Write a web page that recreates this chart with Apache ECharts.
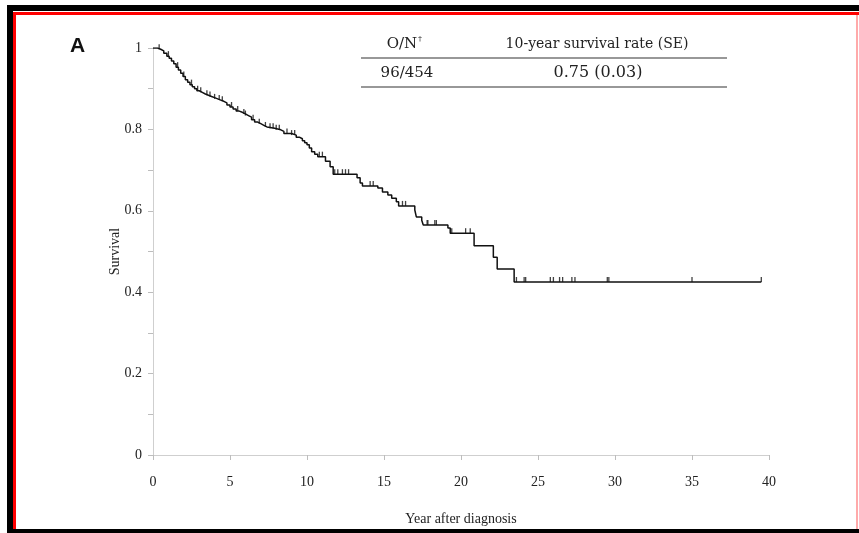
<!DOCTYPE html>
<html>
<head>
<meta charset="utf-8">
<script src="https://cdn.jsdelivr.net/npm/echarts@6/dist/echarts.min.js"></script>
<style>
html,body{margin:0;padding:0;background:#fff;}
#chart{width:859px;height:533px;}
</style>
</head>
<body>
<div id="chart"></div>
<script>
// Kaplan-Meier step points (time in years, survival)
var eventTimes = [0, 0.3, 0.5, 0.7, 0.9, 1.05, 1.2, 1.35, 1.5, 1.65, 1.8, 1.95, 2.1, 2.25, 2.4, 2.55, 2.7, 2.85, 3.0, 3.2, 3.4, 3.6, 3.8, 4.0, 4.2, 4.4, 4.6, 4.8, 5.0, 5.2, 5.4, 5.6, 5.8, 6.0, 6.2, 6.4, 6.6, 6.8, 7.0, 7.2, 7.4, 7.9, 8.3, 8.5, 9.0, 9.3, 9.5, 9.7, 9.85, 10.0, 10.15, 10.3, 10.5, 10.7, 11.2, 11.5, 11.7, 13.25, 13.45, 13.6, 14.6, 14.9, 15.25, 15.5, 15.8, 15.95, 17.0, 17.1, 17.45, 17.55, 19.15, 19.3, 20.85, 22.1, 22.35, 23.45, 39.5];
var survival = [1, 0.997, 0.993, 0.987, 0.98, 0.975, 0.968, 0.961, 0.953, 0.946, 0.938, 0.93, 0.922, 0.916, 0.91, 0.905, 0.9, 0.895, 0.891, 0.887, 0.884, 0.881, 0.878, 0.875, 0.872, 0.869, 0.865, 0.86, 0.855, 0.85, 0.845, 0.842, 0.838, 0.834, 0.83, 0.824, 0.818, 0.814, 0.81, 0.806, 0.803, 0.799, 0.795, 0.79, 0.786, 0.781, 0.777, 0.772, 0.767, 0.762, 0.754, 0.745, 0.739, 0.733, 0.722, 0.708, 0.69, 0.681, 0.668, 0.661, 0.656, 0.646, 0.639, 0.631, 0.622, 0.612, 0.602, 0.585, 0.577, 0.565, 0.558, 0.545, 0.514, 0.486, 0.457, 0.425, 0.425];
// censored observations (time in years)
var censorTimes = [0.4, 1.0, 1.6, 2.0, 2.5, 2.9, 3.1, 3.5, 3.7, 4.0, 4.3, 4.5, 5.1, 5.5, 5.9, 6.0, 6.5, 6.9, 7.3, 7.6, 7.8, 8.0, 8.2, 8.7, 9.0, 9.2, 10.8, 11.0, 11.8, 12.0, 12.3, 12.5, 12.7, 14.1, 14.3, 16.2, 16.4, 17.8, 17.85, 18.3, 18.4, 19.4, 20.3, 20.6, 23.6, 24.1, 24.2, 25.8, 26.0, 26.4, 26.6, 27.2, 27.4, 29.5, 29.6, 35.0, 39.5];
var xTicks = [0, 5, 10, 15, 20, 25, 30, 35, 40];
var yLabels = ['0', '0.2', '0.4', '0.6', '0.8', '1'];
var tableHeader = ['O/N', '10-year survival rate (SE)'];
var tableRow = ['96/454', '0.75 (0.03)'];

function survAt(t) {
  var s = survival[0];
  for (var i = 0; i < eventTimes.length; i++) {
    if (eventTimes[i] <= t) s = survival[i]; else break;
  }
  return s;
}
var lineData = eventTimes.map(function (t, i) { return [t, survival[i]]; });
var censorData = censorTimes.map(function (t) { return [t, survAt(t)]; });

var chart = echarts.init(document.getElementById('chart'), null, {renderer: 'canvas'});
var serif = 'Liberation Serif';
var tfont = 'DejaVu Serif';
var option = {
  animation: false,
  backgroundColor: '#fff',
  grid: {left: 153, right: 90, top: 48, bottom: 78},
  xAxis: {
    type: 'value', min: 0, max: 40, interval: 5,
    name: 'Year after diagnosis', nameLocation: 'middle', nameGap: 57,
    nameTextStyle: {fontFamily: serif, fontSize: 14, color: '#222'},
    axisLine: {lineStyle: {color: '#cfcfcf', width: 1}},
    axisTick: {show: true, length: 5, lineStyle: {color: '#bdbdbd'}},
    axisLabel: {fontFamily: serif, fontSize: 14, color: '#222', margin: 20,
      formatter: function (v) { return xTicks.indexOf(v) >= 0 ? String(v) : ''; }},
    splitLine: {show: false}
  },
  yAxis: {
    type: 'value', min: 0, max: 1, interval: 0.1,
    name: 'Survival', nameLocation: 'middle', nameGap: 31, nameRotate: 90,
    nameMoveOverlap: false,
    nameTextStyle: {fontFamily: serif, fontSize: 14, color: '#222'},
    axisLine: {show: true, lineStyle: {color: '#cfcfcf', width: 1}},
    axisTick: {show: true, length: 5, lineStyle: {color: '#bdbdbd'}},
    axisLabel: {fontFamily: serif, fontSize: 14, color: '#222', margin: 11,
      formatter: function (v) {
        var k = Math.round(v * 10);
        if (k % 2 !== 0) return '';
        return yLabels[k / 2];
      }},
    splitLine: {show: false}
  },
  series: [
    {
      type: 'line', step: 'end', data: lineData, showSymbol: false,
      lineStyle: {color: '#111', width: 1.5}, z: 3
    },
    {
      type: 'scatter', data: censorData, symbol: 'rect', symbolSize: [1.3, 5],
      symbolOffset: [0, -2.5], itemStyle: {color: '#111'}, z: 4
    }
  ],
  graphic: [
    {type: 'rect', shape: {x: 7, y: 5, width: 852, height: 6}, style: {fill: '#000'}},
    {type: 'rect', shape: {x: 7, y: 5, width: 6, height: 528}, style: {fill: '#000'}},
    {type: 'rect', shape: {x: 7, y: 529, width: 852, height: 4}, style: {fill: '#000'}},
    {type: 'rect', shape: {x: 13, y: 12, width: 846, height: 3}, style: {fill: '#ff0000'}},
    {type: 'rect', shape: {x: 13, y: 12, width: 3, height: 517}, style: {fill: '#ff0000'}},
    {type: 'rect', shape: {x: 856, y: 15, width: 2, height: 514}, style: {fill: '#ffaaaa'}},
    {type: 'text', left: 70, top: 36, style: {text: 'A', font: 'bold 21px Liberation Sans', fill: '#111'}},
    {type: 'text', x: 402, y: 44, style: {text: tableHeader[0], font: '15px ' + tfont, fill: '#222', textAlign: 'center', textVerticalAlign: 'middle'}},
    {type: 'text', x: 420, y: 39, style: {text: '\u2020', font: '8px ' + tfont, fill: '#222', textAlign: 'center', textVerticalAlign: 'middle'}},
    {type: 'text', x: 597, y: 44, style: {text: tableHeader[1], font: '14px ' + tfont, fill: '#222', textAlign: 'center', textVerticalAlign: 'middle'}},
    {type: 'line', shape: {x1: 361, y1: 58, x2: 727, y2: 58}, style: {stroke: '#333', lineWidth: 1.2}},
    {type: 'text', x: 407, y: 73, style: {text: tableRow[0], font: '15px ' + tfont, fill: '#222', textAlign: 'center', textVerticalAlign: 'middle'}},
    {type: 'text', x: 598, y: 73, style: {text: tableRow[1], font: '16px ' + tfont, fill: '#222', textAlign: 'center', textVerticalAlign: 'middle'}},
    {type: 'line', shape: {x1: 361, y1: 87, x2: 727, y2: 87}, style: {stroke: '#333', lineWidth: 1.2}}
  ]
};
chart.setOption(option);
</script>
</body>
</html>
